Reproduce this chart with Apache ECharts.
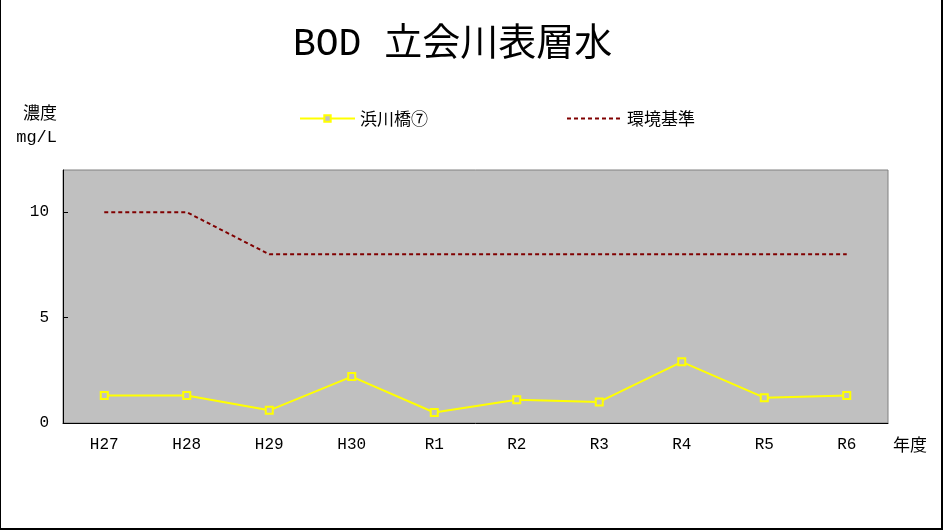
<!DOCTYPE html>
<html><head><meta charset="utf-8">
<script src="https://cdn.jsdelivr.net/npm/echarts@6/dist/echarts.min.js"></script>
<style>
html,body{margin:0;padding:0;background:#fff;}
#wrap{position:relative;width:945px;height:532px;}
#c{position:absolute;left:0;top:0;width:945px;height:532px;}
#frame{position:absolute;left:0;top:-2px;width:943px;height:532px;box-sizing:border-box;border:1px solid #000;border-right-width:2px;border-bottom-width:2px;pointer-events:none;}
</style></head>
<body><div id="wrap"><div id="c"></div><div id="frame"></div></div>
<script>
const categories = ['H27','H28','H29','H30','R1','R2','R3','R4','R5','R6'];
const hamakawa = [1.3, 1.3, 0.6, 2.2, 0.5, 1.1, 1.0, 2.9, 1.2, 1.3];
const standard = [10, 10, 8, 8, 8, 8, 8, 8, 8, 8];
const yTicks = [0, 5, 10];

const FONT = "'Liberation Mono','Noto Sans CJK JP',monospace";
const CJK = "'Noto Sans CJK JP','Liberation Mono',sans-serif";
const chart = echarts.init(document.getElementById('c'));
chart.setOption({
  animation: false,
  backgroundColor: '#fff',
  textStyle: {fontFamily: FONT},
  title: {
    text: 'BOD 立会川表層水',
    left: 288, top: 21,
    textStyle: {fontFamily: FONT, fontSize: 38, fontWeight: 'normal', color: '#000'}
  },
  legend: [
    {data: ['浜川橋⑦'], left: 294, top: 105, itemWidth: 55, itemHeight: 8, itemGap: 5,
     textStyle: {fontFamily: CJK, fontSize: 17, color: '#000'}},
    {data: ['環境基準'], left: 561, top: 105, itemWidth: 55, itemHeight: 8, itemGap: 5,
     itemStyle: {opacity: 0},
     textStyle: {fontFamily: CJK, fontSize: 17, color: '#000'}}
  ],
  grid: {left: 63, right: 57, top: 170, bottom: 109, show: true,
         backgroundColor: '#C0C0C0', borderColor: '#808080', borderWidth: 1},
  xAxis: {
    type: 'category', data: categories, boundaryGap: true,
    name: '年度', nameLocation: 'end', nameGap: 5,
    nameTextStyle: {fontFamily: CJK, fontSize: 17, color: '#000', verticalAlign: 'top', align: 'left', padding: [13, 0, 0, 0]},
    axisLine: {lineStyle: {color: '#000', width: 1}},
    axisTick: {inside: true, length: 5, lineStyle: {color: '#000'}},
    axisLabel: {fontFamily: FONT, fontSize: 16, color: '#000', margin: 14}
  },
  yAxis: {
    type: 'value', min: 0, max: 12, interval: 5,
    name: '濃度\nmg/L', nameLocation: 'end', nameGap: 44,
    nameTextStyle: {fontFamily: FONT, fontSize: 17, color: '#000', align: 'right', verticalAlign: 'middle', lineHeight: 23, padding: [0, 6, 0, 0]},
    axisLine: {show: true, lineStyle: {color: '#000', width: 1}},
    axisTick: {show: true, inside: true, length: 5, customValues: yTicks, lineStyle: {color: '#000'}},
    splitLine: {show: false},
    axisLabel: {fontFamily: FONT, fontSize: 16, color: '#000', margin: 14, customValues: yTicks,
      formatter: v => yTicks.includes(v) ? String(v) : ''}
  },
  series: [
    {name: '浜川橋⑦', type: 'line', data: hamakawa,
     symbol: 'rect', symbolSize: 7,
     lineStyle: {color: '#FFFF00', width: 2},
     itemStyle: {color: '#C0C0C0', borderColor: '#FFFF00', borderWidth: 2}},
    {name: '環境基準', type: 'line', data: standard,
     symbol: 'none',
     lineStyle: {color: '#800000', width: 2, type: [4, 3]},
     itemStyle: {color: '#800000'}}
  ]
});
</script></body></html>
